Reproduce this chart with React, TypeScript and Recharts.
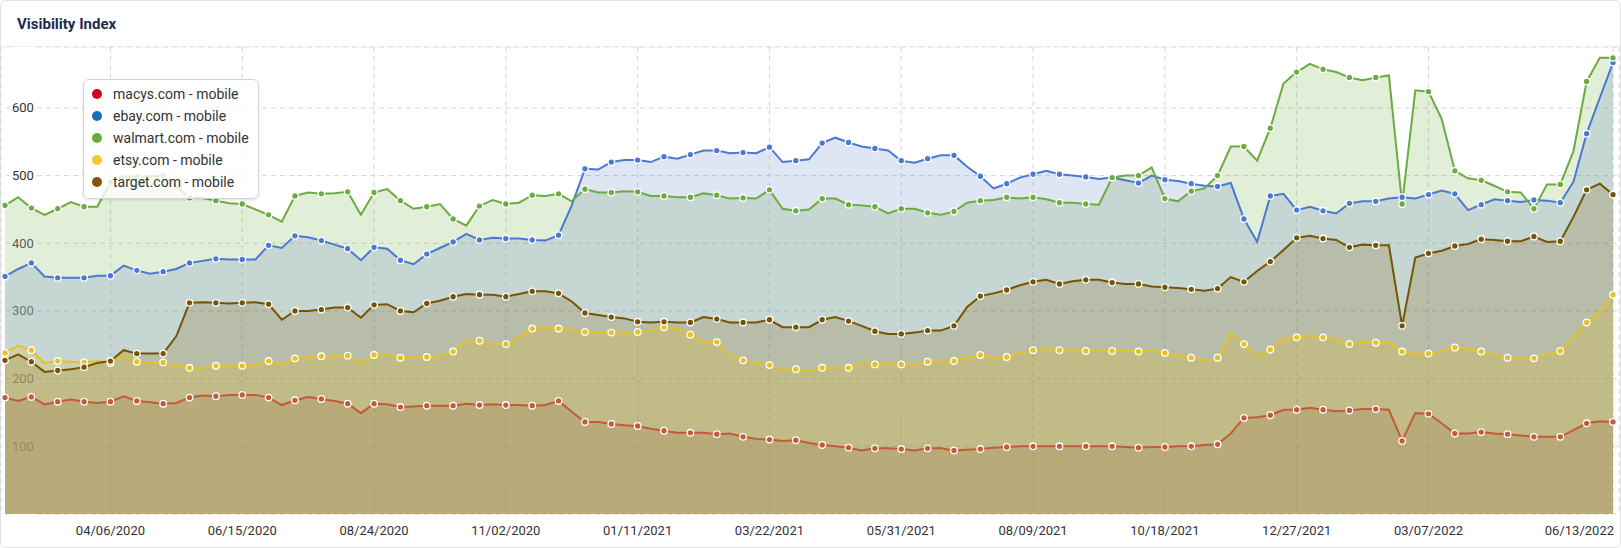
import React from 'react';
import { ComposedChart, Area, Line, XAxis, YAxis, CartesianGrid } from 'recharts';

// weekly snapshots, Mondays from 02/10/2020 to 06/13/2022
const firstWeek = Date.UTC(2020, 1, 10);
const weekCount = 123;
const pad = (n: number) => String(n).padStart(2, '0');
const weeks: string[] = Array.from({ length: weekCount }, (_, i) => {
  const d = new Date(firstWeek + i * 7 * 86400000);
  return `${pad(d.getUTCMonth() + 1)}/${pad(d.getUTCDate())}/${d.getUTCFullYear()}`;
});

const tickLabels = [
  '04/06/2020', '06/15/2020', '08/24/2020', '11/02/2020', '01/11/2021', '03/22/2021',
  '05/31/2021', '08/09/2021', '10/18/2021', '12/27/2021', '03/07/2022', '06/13/2022',
];
const yTicks = [100, 200, 300, 400, 500, 600];

const macys = [
  172, 167, 173, 162, 166, 169, 166, 164, 166, 174, 167, 165, 163, 164, 172, 175, 174, 176, 176, 176,
  172, 161, 168, 173, 170, 167, 163, 149, 163, 162, 158, 159, 160, 160, 160, 163, 161, 162, 161, 161,
  160, 161, 167, 151, 136, 136, 133, 131, 130, 126, 123, 120, 120, 120, 118, 119, 114, 111, 110, 108,
  109, 105, 102, 100, 98, 94, 97, 97, 96, 94, 97, 97, 94, 95, 96, 98, 99, 100, 100, 100,
  100, 100, 100, 100, 100, 99, 98, 99, 99, 100, 100, 102, 103, 119, 142, 143, 146, 154, 154, 157,
  154, 152, 153, 155, 155, 154, 108, 149, 148, 134, 119, 119, 121, 119, 118, 116, 114, 114, 114, 124,
  134, 137, 136,
];
const ebay = [
  351, 362, 371, 351, 349, 349, 349, 352, 352, 367, 360, 355, 358, 362, 371, 374, 377, 376, 376, 376,
  397, 393, 411, 409, 404, 398, 392, 375, 394, 392, 375, 369, 384, 393, 402, 414, 405, 408, 407, 407,
  405, 404, 412, 456, 510, 509, 520, 523, 523, 520, 528, 525, 531, 537, 537, 533, 534, 533, 542, 520,
  522, 524, 548, 556, 549, 543, 540, 537, 522, 519, 525, 530, 530, 513, 499, 481, 488, 497, 502, 507,
  502, 500, 498, 495, 497, 493, 489, 500, 494, 492, 488, 485, 484, 489, 436, 402, 470, 473, 449, 454,
  448, 444, 459, 462, 462, 466, 468, 466, 472, 478, 473, 449, 457, 465, 463, 461, 464, 463, 460, 491,
  562, 615, 667,
];
const walmart = [
  456, 468, 452, 442, 451, 461, 454, 454, 490, 499, 498, 499, 500, 484, 467, 467, 463, 459, 458, 450,
  442, 432, 470, 475, 473, 474, 476, 442, 475, 480, 463, 451, 454, 458, 436, 426, 455, 464, 458, 460,
  471, 470, 473, 462, 480, 475, 475, 477, 476, 470, 470, 468, 468, 474, 471, 466, 467, 466, 479, 451,
  448, 450, 466, 466, 457, 456, 454, 444, 451, 451, 445, 442, 447, 460, 463, 464, 468, 466, 468, 465,
  460, 460, 458, 457, 497, 500, 500, 512, 466, 462, 477, 481, 500, 543, 543, 522, 570, 636, 653, 665,
  657, 653, 645, 641, 645, 648, 458, 626, 624, 584, 507, 496, 493, 485, 476, 475, 451, 487, 487, 536,
  639, 674, 674,
];
const etsy = [
  238, 249, 242, 223, 226, 225, 224, 226, 223, 237, 225, 224, 224, 220, 216, 216, 219, 219, 219, 221,
  226, 221, 230, 232, 233, 234, 234, 222, 235, 236, 231, 232, 232, 234, 240, 256, 256, 251, 251, 262,
  274, 276, 274, 272, 269, 268, 268, 269, 269, 272, 276, 274, 265, 255, 254, 235, 227, 223, 220, 213,
  214, 211, 216, 217, 216, 223, 221, 223, 221, 221, 225, 226, 226, 231, 235, 230, 232, 238, 242, 244,
  242, 242, 241, 241, 241, 242, 240, 242, 238, 235, 231, 226, 231, 268, 251, 233, 243, 259, 261, 264,
  261, 259, 251, 255, 253, 254, 240, 237, 237, 241, 246, 245, 240, 235, 231, 230, 230, 236, 241, 261,
  283, 299, 324,
];
const target = [
  227, 236, 225, 210, 212, 214, 217, 223, 226, 242, 237, 237, 237, 263, 312, 313, 312, 311, 312, 313,
  310, 287, 300, 300, 302, 305, 305, 290, 309, 310, 300, 298, 311, 315, 321, 325, 324, 324, 321, 325,
  329, 329, 326, 314, 297, 294, 291, 289, 284, 283, 284, 283, 283, 291, 288, 283, 283, 283, 287, 276,
  276, 276, 287, 291, 285, 278, 270, 266, 266, 268, 271, 271, 278, 306, 322, 326, 331, 338, 343, 346,
  340, 344, 346, 346, 342, 340, 340, 336, 335, 334, 332, 330, 333, 350, 343, 359, 373, 390, 408, 411,
  407, 405, 394, 398, 397, 397, 278, 379, 385, 389, 396, 399, 406, 405, 403, 403, 410, 402, 403, 439,
  479, 488, 472,
];

const data = weeks.map((date, i) => ({
  date,
  macys: macys[i],
  ebay: ebay[i],
  walmart: walmart[i],
  etsy: etsy[i],
  target: target[i],
}));

// fills are stacked translucent layers, order chosen to reproduce the blended bands
const fills = [
  { key: 'walmart', color: '#6aaa3a' },
  { key: 'ebay', color: '#5a7dc3' },
  { key: 'target', color: '#7d5700' },
  { key: 'etsy', color: '#ebb50a' },
  { key: 'macys', color: '#9b6d40' },
];

const lines = [
  { key: 'macys', color: '#c45a3a' },
  { key: 'ebay', color: '#4b78d3' },
  { key: 'walmart', color: '#6cab3e' },
  { key: 'etsy', color: '#e6c229' },
  { key: 'target', color: '#775404' },
];

const legendItems = [
  { label: 'macys.com - mobile', color: '#d0021b' },
  { label: 'ebay.com - mobile', color: '#1c6bbd' },
  { label: 'walmart.com - mobile', color: '#6aab3c' },
  { label: 'etsy.com - mobile', color: '#f0c92a' },
  { label: 'target.com - mobile', color: '#8a5208' },
];

const font = 'Roboto, "Open Sans", Arial, sans-serif';
const lastLabel = tickLabels[tickLabels.length - 1];
const firstValues = [macys[0], ebay[0], walmart[0], etsy[0], target[0]];

const renderDot = (color: string) => (props: any) => {
  const { cx, cy, index } = props;
  if (index % 2 !== 0 || cx == null || cy == null) return <g key={`d${index}`} />;
  return <circle key={`d${index}`} cx={cx} cy={cy} r={3.3} fill={color} stroke="#fff" strokeWidth={1.3} />;
};

// labels sit behind the translucent fills in the original, so fade them by the layers above
const renderYTick = (props: any) => {
  const { y, payload } = props;
  const layers = firstValues.filter((v) => v > payload.value).length;
  return (
    <text
      key={`yt${payload.value}`}
      x={12}
      y={y}
      dy={4.5}
      fontSize={13}
      fill="#333"
      fillOpacity={Math.pow(0.8, layers)}
      fontFamily={font}
    >
      {payload.value}
    </text>
  );
};

const renderXTick = (props: any) => {
  const { x, y, payload } = props;
  const isLast = payload.value === lastLabel;
  return (
    <text
      key={`xt${payload.value}`}
      x={isLast ? x + 1 : x}
      y={y}
      dy={13}
      textAnchor={isLast ? 'end' : 'middle'}
      fontSize={13}
      fill="#333"
      fontFamily={font}
    >
      {payload.value}
    </text>
  );
};

// horizontal grid lines leave a gap where the y label sits
const renderHLine = (props: any) => {
  const { x1, x2, y1, stroke, strokeDasharray, index } = props;
  return (
    <g key={`hl${index}-${y1}`}>
      <line x1={x1 + 5} x2={x1 + 9} y1={y1} y2={y1} stroke={stroke} />
      <line x1={x1 + 36} x2={x2} y1={y1} y2={y1} stroke={stroke} strokeDasharray={strokeDasharray} />
    </g>
  );
};

export default function App() {
  return (
    <div style={{ position: 'absolute', left: 0, top: 0, width: 1621, height: 548, fontFamily: font }}>
      <div
        style={{
          position: 'absolute',
          left: 0,
          top: 0,
          width: 1621,
          height: 548,
          boxSizing: 'border-box',
          border: '1px solid #e3e3e3',
          borderRadius: 6,
          background: '#fff',
        }}
      />
      <div
        style={{
          position: 'absolute',
          left: 1,
          top: 1,
          width: 1619,
          height: 46,
          borderBottom: '1px solid #ececec',
          boxSizing: 'border-box',
        }}
      />
      <div
        style={{
          position: 'absolute',
          left: 17,
          top: 14,
          fontSize: 15,
          fontWeight: 700,
          color: '#1d2b4c',
          lineHeight: '20px',
        }}
      >
        Visibility Index
      </div>

      <div style={{ position: 'absolute', left: 0, top: 47 }}>
        <ComposedChart width={1620} height={500} data={data} margin={{ top: 0, right: 1, bottom: 0, left: 1 }}>
          <CartesianGrid strokeDasharray="5 4" stroke="#d6d6d6" horizontal={renderHLine} />
          <YAxis
            domain={[0, 690]}
            ticks={yTicks}
            allowDataOverflow
            mirror
            axisLine={false}
            tickLine={false}
            tick={renderYTick}
          />
          <XAxis
            dataKey="date"
            ticks={tickLabels}
            interval={0}
            padding={{ left: 4, right: 6 }}
            axisLine={false}
            tickLine={false}
            height={33}
            tick={renderXTick}
          />
          {fills.map((f) => (
            <Area
              key={`a-${f.key}`}
              type="linear"
              dataKey={f.key}
              stroke="none"
              fill={f.color}
              fillOpacity={0.2}
              dot={false}
              activeDot={false}
              legendType="none"
              isAnimationActive={false}
            />
          ))}
          {lines.map((l) => (
            <Line
              key={`l-${l.key}`}
              type="linear"
              dataKey={l.key}
              stroke={l.color}
              strokeWidth={2}
              dot={renderDot(l.color)}
              activeDot={false}
              isAnimationActive={false}
            />
          ))}
        </ComposedChart>
      </div>

      <div
        style={{
          position: 'absolute',
          left: 83,
          top: 79,
          width: 176,
          height: 120,
          boxSizing: 'border-box',
          border: '1px solid #d4d4d4',
          borderRadius: 6,
          background: 'rgba(255,255,255,0.8)',
          boxShadow: '0 1px 3px rgba(0,0,0,0.12)',
        }}
      >
        {legendItems.map((item, i) => (
          <div
            key={item.label}
            style={{
              position: 'absolute',
              left: 8,
              top: 3 + i * 22,
              height: 22,
              lineHeight: '22px',
              fontSize: 14,
              color: '#333',
              whiteSpace: 'nowrap',
              display: 'flex',
              alignItems: 'center',
            }}
          >
            <span
              style={{
                display: 'inline-block',
                width: 10,
                height: 10,
                borderRadius: '50%',
                background: item.color,
                marginRight: 11,
              }}
            />
            {item.label}
          </div>
        ))}
      </div>
    </div>
  );
}
